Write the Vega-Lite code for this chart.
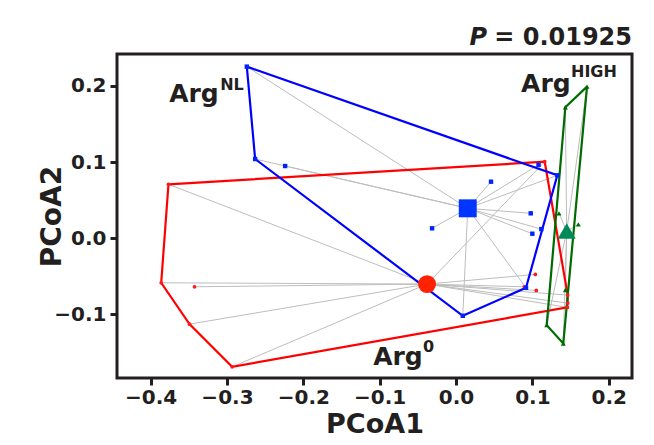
{
  "$schema": "https://vega.github.io/schema/vega-lite/v6.json",
  "width": 515,
  "height": 324,
  "autosize": "none",
  "padding": {"left": 117, "top": 54, "right": 22, "bottom": 67},
  "background": "white",
  "config": {
    "view": {"stroke": "#231f20", "strokeWidth": 3},
    "font": "DejaVu Sans"
  },
  "datasets": {
    "members": [
      {"group": "Arg0", "x": -0.3766, "y": 0.0707},
      {"group": "Arg0", "x": -0.3861, "y": -0.0588},
      {"group": "Arg0", "x": -0.3491, "y": -0.1132},
      {"group": "Arg0", "x": -0.2932, "y": -0.1693},
      {"group": "Arg0", "x": 0.1161, "y": 0.1004},
      {"group": "Arg0", "x": 0.1462, "y": -0.075},
      {"group": "Arg0", "x": 0.1462, "y": -0.0855},
      {"group": "Arg0", "x": 0.1457, "y": -0.0912},
      {"group": "Arg0", "x": -0.3425, "y": -0.0641},
      {"group": "Arg0", "x": 0.1038, "y": -0.0478},
      {"group": "Arg0", "x": 0.1051, "y": -0.0688},
      {"group": "Arg0", "x": 0.0894, "y": -0.0641},
      {"group": "ArgNL", "x": -0.274, "y": 0.2254},
      {"group": "ArgNL", "x": -0.2631, "y": 0.1039},
      {"group": "ArgNL", "x": -0.2238, "y": 0.0947},
      {"group": "ArgNL", "x": 0.108, "y": 0.0963},
      {"group": "ArgNL", "x": 0.1326, "y": 0.0825},
      {"group": "ArgNL", "x": 0.0458, "y": 0.0741},
      {"group": "ArgNL", "x": -0.0314, "y": 0.0128},
      {"group": "ArgNL", "x": 0.0978, "y": 0.0325},
      {"group": "ArgNL", "x": 0.0999, "y": 0.0057},
      {"group": "ArgNL", "x": 0.1117, "y": 0.0118},
      {"group": "ArgNL", "x": 0.0916, "y": -0.0654},
      {"group": "ArgNL", "x": 0.0088, "y": -0.1022},
      {"group": "ArgHIGH", "x": 0.1715, "y": 0.1991},
      {"group": "ArgHIGH", "x": 0.1431, "y": 0.172},
      {"group": "ArgHIGH", "x": 0.1187, "y": -0.1145},
      {"group": "ArgHIGH", "x": 0.1404, "y": -0.1386},
      {"group": "ArgHIGH", "x": 0.1348, "y": 0.0325},
      {"group": "ArgHIGH", "x": 0.1601, "y": 0.018},
      {"group": "ArgHIGH", "x": 0.1431, "y": -0.0684}
    ],
    "centroids": [
      {"group": "Arg0", "x": -0.038, "y": -0.0605},
      {"group": "ArgNL", "x": 0.0153, "y": 0.0391},
      {"group": "ArgHIGH", "x": 0.1449, "y": 0.0092}
    ],
    "hulls": [
      {"group": "Arg0", "order": 1, "x": -0.3766, "y": 0.0707},
      {"group": "Arg0", "order": 2, "x": 0.1161, "y": 0.1004},
      {"group": "Arg0", "order": 3, "x": 0.1462, "y": -0.075},
      {"group": "Arg0", "order": 4, "x": 0.1457, "y": -0.0912},
      {"group": "Arg0", "order": 5, "x": -0.2932, "y": -0.1693},
      {"group": "Arg0", "order": 6, "x": -0.3491, "y": -0.1132},
      {"group": "Arg0", "order": 7, "x": -0.3861, "y": -0.0588},
      {"group": "Arg0", "order": 8, "x": -0.3766, "y": 0.0707},
      {"group": "ArgNL", "order": 1, "x": -0.274, "y": 0.2254},
      {"group": "ArgNL", "order": 2, "x": 0.1326, "y": 0.0825},
      {"group": "ArgNL", "order": 3, "x": 0.0916, "y": -0.0654},
      {"group": "ArgNL", "order": 4, "x": 0.0088, "y": -0.1022},
      {"group": "ArgNL", "order": 5, "x": -0.2631, "y": 0.1039},
      {"group": "ArgNL", "order": 6, "x": -0.274, "y": 0.2254},
      {"group": "ArgHIGH", "order": 1, "x": 0.1715, "y": 0.1991},
      {"group": "ArgHIGH", "order": 2, "x": 0.1431, "y": 0.172},
      {"group": "ArgHIGH", "order": 3, "x": 0.1187, "y": -0.1145},
      {"group": "ArgHIGH", "order": 4, "x": 0.1404, "y": -0.1386},
      {"group": "ArgHIGH", "order": 5, "x": 0.1715, "y": 0.1991}
    ],
    "labels": [
      {"kind": "main", "text": "Arg", "x": -0.3757, "y": 0.1793},
      {"kind": "sup", "text": "NL", "x": -0.3089, "y": 0.1947},
      {"kind": "main", "text": "Arg", "x": 0.0851, "y": 0.1921},
      {"kind": "sup", "text": "HIGH", "x": 0.1505, "y": 0.2118},
      {"kind": "main", "text": "Arg", "x": -0.1086, "y": -0.1671},
      {"kind": "sup", "text": "0", "x": -0.0432, "y": -0.15}
    ],
    "pvalue": [
      {"kind": "p", "text": "P", "x": 0.0406, "y": 0.2539},
      {"kind": "val", "text": "= 0.01925", "x": 0.2304, "y": 0.2539}
    ]
  },
  "encoding": {
    "x": {
      "field": "x", "type": "quantitative",
      "scale": {"domain": [-0.444, 0.2304], "nice": false, "zero": false},
      "axis": {
        "title": "PCoA1",
        "values": [-0.4, -0.3, -0.2, -0.1, 0, 0.1, 0.2],
        "format": ".1f",
        "domain": false, "grid": false,
        "tickSize": 7, "tickWidth": 3, "tickColor": "#231f20",
        "labelFont": "DejaVu Sans", "labelFontSize": 20, "labelFontWeight": "bold",
        "labelColor": "#231f20", "labelPadding": 2,
        "titleFont": "DejaVu Sans", "titleFontSize": 27, "titleFontWeight": "bold",
        "titleColor": "#231f20", "titlePadding": 4
      }
    },
    "y": {
      "field": "y", "type": "quantitative",
      "scale": {"domain": [-0.184, 0.242], "nice": false, "zero": false},
      "axis": {
        "title": "PCoA2",
        "values": [-0.1, 0, 0.1, 0.2],
        "format": ".1f",
        "domain": false, "grid": false,
        "tickSize": 7, "tickWidth": 3, "tickColor": "#231f20",
        "labelFont": "DejaVu Sans", "labelFontSize": 20, "labelFontWeight": "bold",
        "labelColor": "#231f20", "labelPadding": 4,
        "titleFont": "DejaVu Sans", "titleFontSize": 28, "titleFontWeight": "bold",
        "titleColor": "#231f20", "titleX": -57, "titleBaseline": "alphabetic"
      }
    }
  },
  "layer": [
    {
      "data": {"name": "members"},
      "transform": [
        {"lookup": "group", "from": {"data": {"name": "centroids"}, "key": "group", "fields": ["x", "y"]}, "as": ["cx", "cy"]}
      ],
      "mark": {"type": "rule", "color": "#bdbdbd", "strokeWidth": 1},
      "encoding": {
        "x2": {"field": "cx"},
        "y2": {"field": "cy"}
      }
    },
    {
      "data": {"name": "hulls"},
      "mark": {"type": "line", "strokeWidth": 2.2, "strokeJoin": "miter"},
      "encoding": {
        "color": {"field": "group", "type": "nominal", "legend": null,
          "scale": {"domain": ["Arg0", "ArgNL", "ArgHIGH"], "range": ["#ff0000", "#0000ff", "#006b00"]}},
        "order": {"field": "order", "type": "quantitative"}
      }
    },
    {
      "data": {"name": "members"},
      "mark": {"type": "point", "filled": true, "opacity": 1},
      "encoding": {
        "color": {"field": "group", "type": "nominal", "legend": null,
          "scale": {"domain": ["Arg0", "ArgNL", "ArgHIGH"], "range": ["#ff1a1a", "#0022ff", "#006b00"]}},
        "shape": {"field": "group", "type": "nominal", "legend": null,
          "scale": {"domain": ["Arg0", "ArgNL", "ArgHIGH"], "range": ["circle", "square", "triangle-up"]}},
        "size": {"field": "group", "type": "ordinal", "legend": null,
          "scale": {"domain": ["Arg0", "ArgNL", "ArgHIGH"], "range": [14, 25, 24]}}
      }
    },
    {
      "data": {"name": "centroids"},
      "mark": {"type": "point", "filled": true, "opacity": 1},
      "encoding": {
        "color": {"field": "group", "type": "nominal", "legend": null,
          "scale": {"domain": ["Arg0", "ArgNL", "ArgHIGH"], "range": ["#ff2200", "#0036ff", "#008a5a"]}},
        "shape": {"field": "group", "type": "nominal", "legend": null,
          "scale": {"domain": ["Arg0", "ArgNL", "ArgHIGH"], "range": ["circle", "square", "triangle-up"]}},
        "size": {"field": "group", "type": "ordinal", "legend": null,
          "scale": {"domain": ["Arg0", "ArgNL", "ArgHIGH"], "range": [320, 324, 320]}}
      }
    },
    {
      "data": {"name": "labels"},
      "transform": [{"filter": "datum.kind === 'main'"}],
      "mark": {"type": "text", "align": "left", "baseline": "alphabetic", "font": "DejaVu Sans", "fontWeight": "bold", "fontSize": 25, "color": "#231f20"},
      "encoding": {"text": {"field": "text"}}
    },
    {
      "data": {"name": "labels"},
      "transform": [{"filter": "datum.kind === 'sup'"}],
      "mark": {"type": "text", "align": "left", "baseline": "alphabetic", "font": "DejaVu Sans", "fontWeight": "bold", "fontSize": 16, "color": "#231f20"},
      "encoding": {"text": {"field": "text"}}
    },
    {
      "data": {"name": "pvalue"},
      "transform": [{"filter": "datum.kind === 'p'"}],
      "mark": {"type": "text", "align": "right", "baseline": "alphabetic", "font": "DejaVu Sans", "fontWeight": "bold", "fontStyle": "italic", "fontSize": 24, "color": "#231f20"},
      "encoding": {"text": {"field": "text"}}
    },
    {
      "data": {"name": "pvalue"},
      "transform": [{"filter": "datum.kind === 'val'"}],
      "mark": {"type": "text", "align": "right", "baseline": "alphabetic", "font": "DejaVu Sans", "fontWeight": "bold", "fontSize": 24, "color": "#231f20"},
      "encoding": {"text": {"field": "text"}}
    }
  ],
  "resolve": {"scale": {"color": "independent", "shape": "independent", "size": "independent"}}
}
